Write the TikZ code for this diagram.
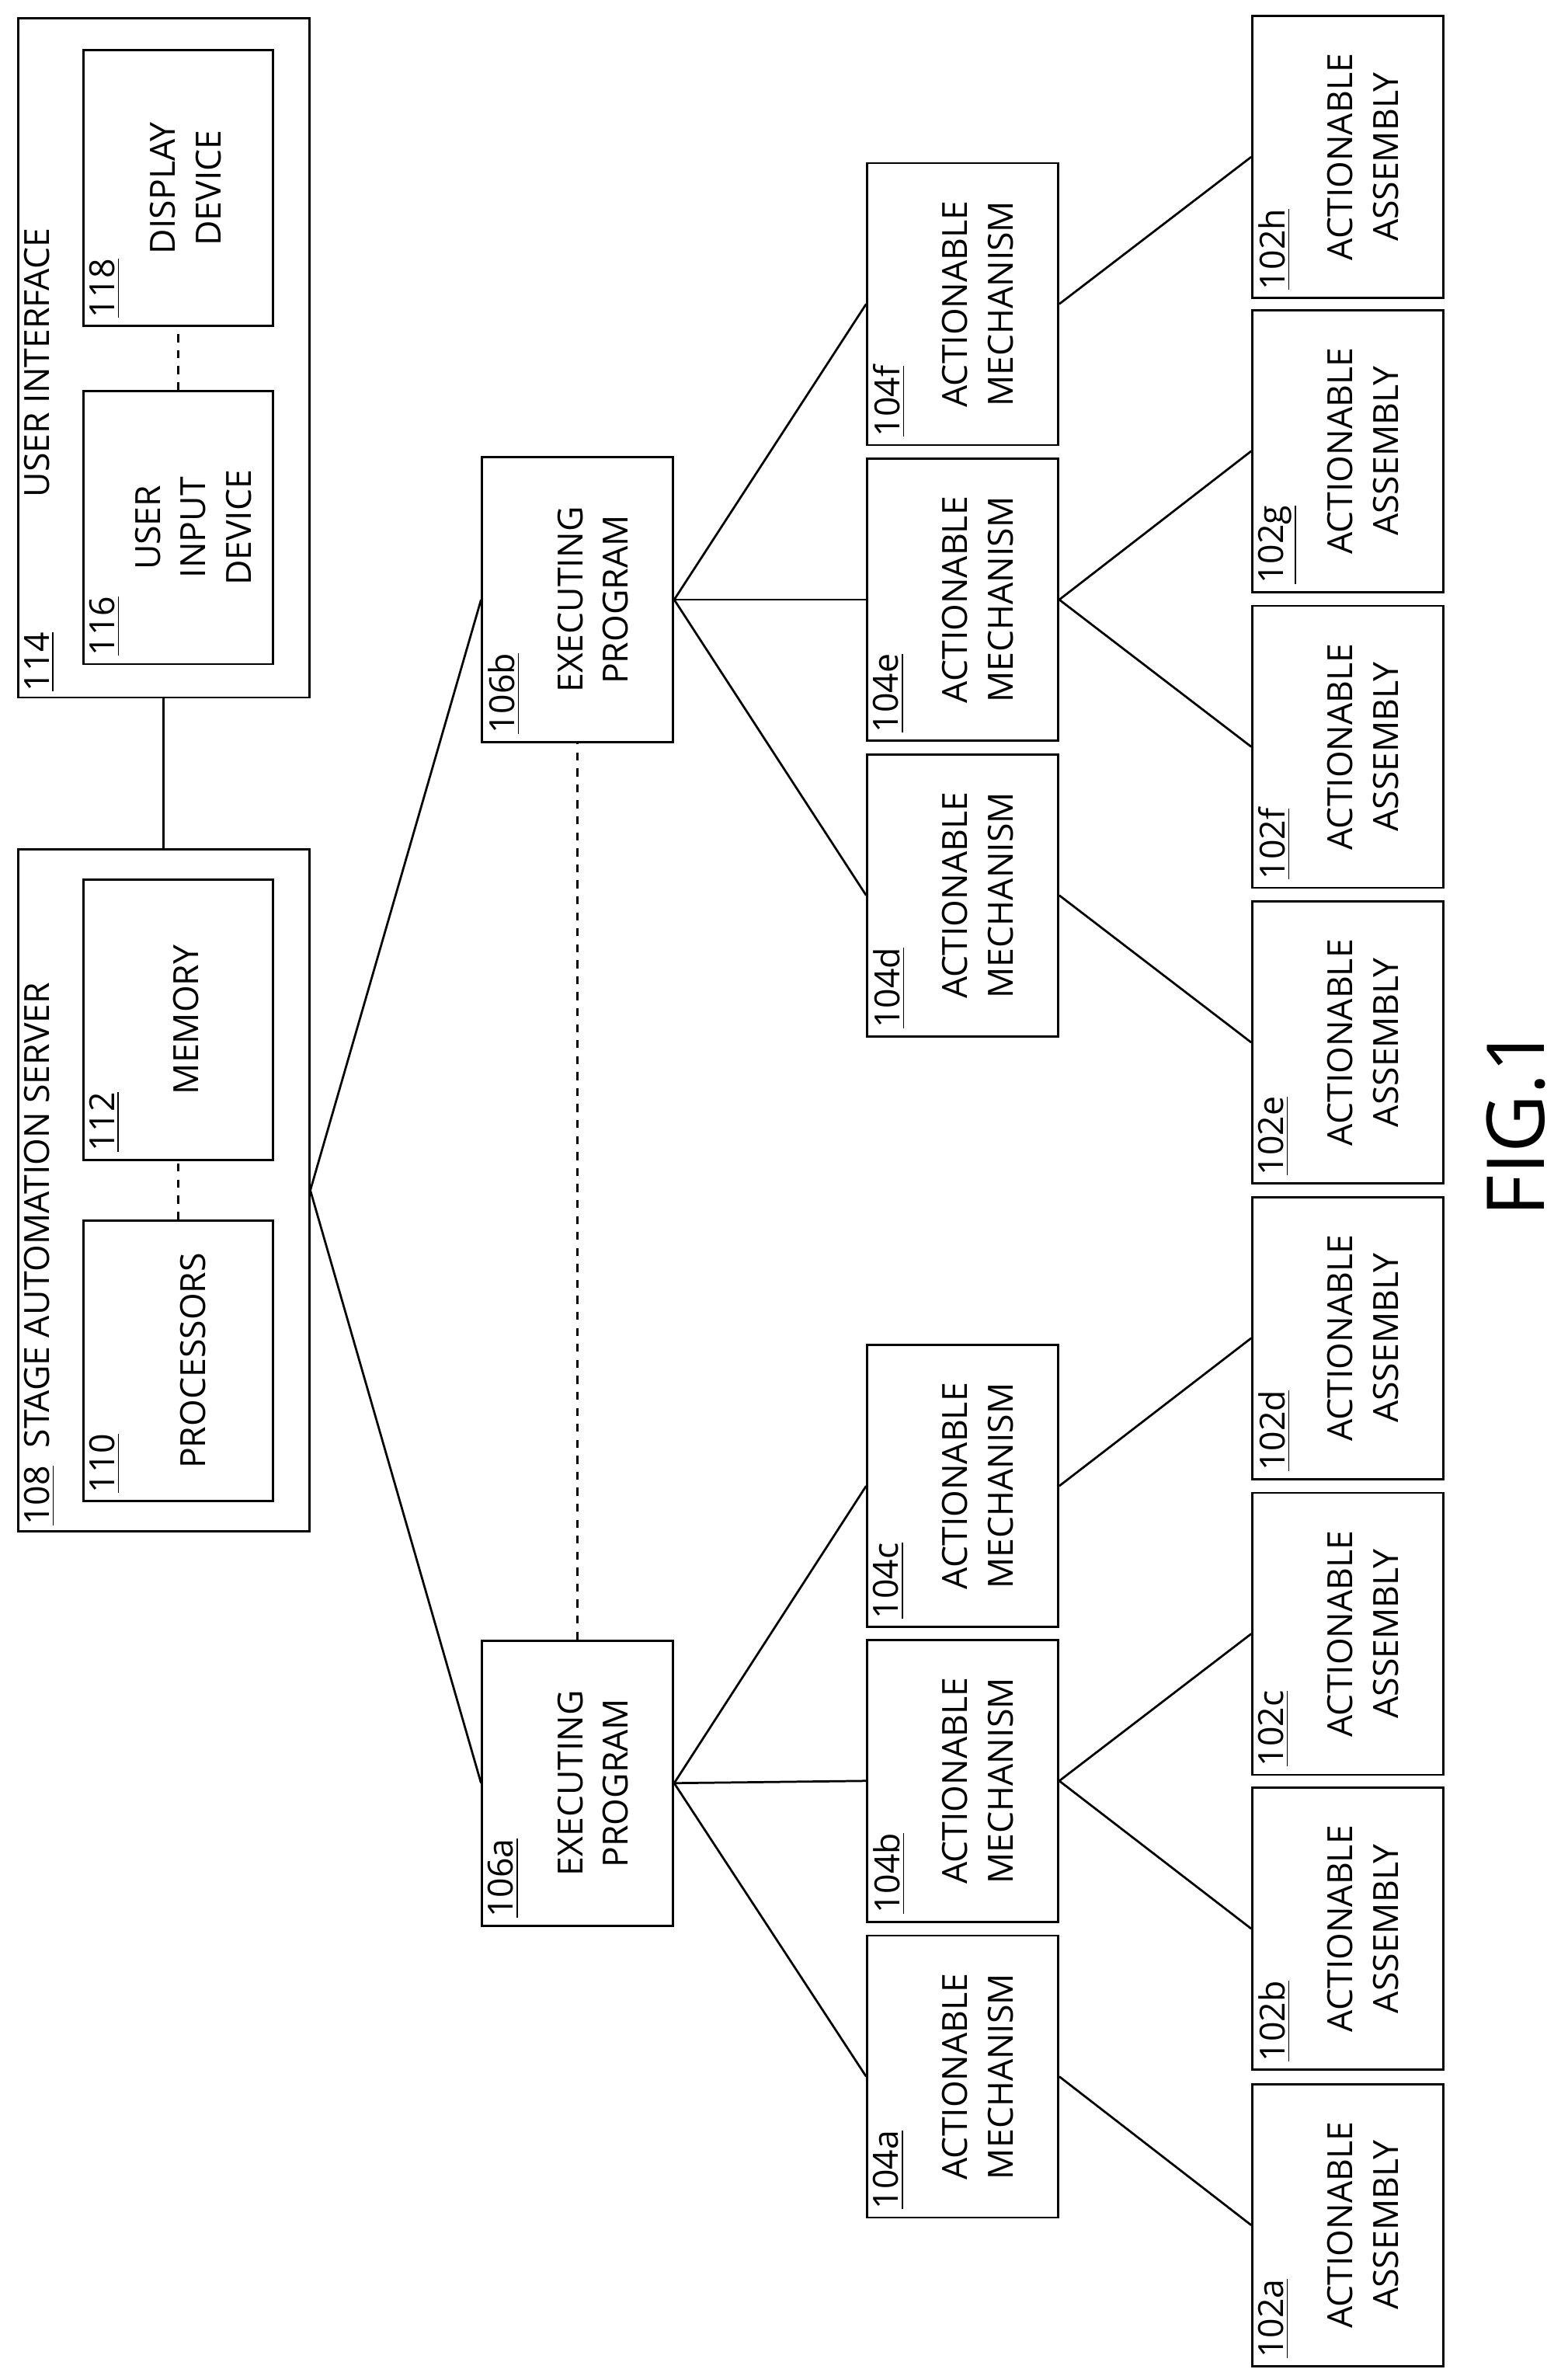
\documentclass[tikz,border=0pt]{standalone}
\usepackage{fontspec}
\setmainfont{Open Sans}
\usetikzlibrary{positioning}

\begin{document}
\begin{tikzpicture}[
    x=0.02cm, y=-0.02cm,
    box/.style={rectangle, draw, thick, inner sep=0pt},
    unit/.style={box, minimum width=2.52cm, minimum height=3.72cm},
    num/.style={rotate=90, anchor=north west, inner sep=1pt, font=\fontsize{13}{16}\selectfont},
    txt/.style={rotate=90, align=center, inner sep=0pt, font=\fontsize{13}{17}\selectfont},
    link/.style={thick},
    gap/.style={thick, dashed},
]
    \useasboundingbox (0,0) rectangle (1034,1567);

    % Server and user interface
    \node[box, minimum width=3.84cm, minimum height=9cm] (server) at (108,785) {};
    \node[num] (server-n) at ([xshift=0.05cm,yshift=0.05cm]server.south west) {\underline{108}\ \ STAGE AUTOMATION SERVER};
    \node[box, minimum width=2.5cm, minimum height=3.7cm] (proc) at (117.5,897.5) {};
    \node[num] (proc-n) at ([xshift=0.05cm,yshift=0.08cm]proc.south west) {\underline{110}};
    \node[txt] (proc-t) at ([xshift=0.2cm]proc.center) {PROCESSORS};
    \node[box, minimum width=2.5cm, minimum height=3.7cm] (mem) at (117.5,672.5) {};
    \node[num] (mem-n) at ([xshift=0.05cm,yshift=0.08cm]mem.south west) {\underline{112}};
    \node[txt] (mem-t) at ([xshift=0.1cm]mem.center) {MEMORY};

    \node[box, minimum width=3.84cm, minimum height=8.96cm] (ui) at (108,236) {};
    \node[num] (ui-n) at ([xshift=0.05cm,yshift=0.05cm]ui.south west) {\underline{114}\ \ \ \ \ \ \ \ \ \ \ \ \ \ \ USER INTERFACE};
    \node[box, minimum width=2.5cm, minimum height=3.6cm] (input) at (117.5,348) {};
    \node[num] (input-n) at ([xshift=0.05cm,yshift=0.08cm]input.south west) {\underline{116}};
    \node[txt] (input-t) at ([xshift=0.2cm]input.center) {USER\\INPUT\\DEVICE};
    \node[box, minimum width=2.5cm, minimum height=3.64cm] (disp) at (117.5,124) {};
    \node[num] (disp-n) at ([xshift=0.05cm,yshift=0.08cm]disp.south west) {\underline{118}};
    \node[txt] (disp-t) at ([xshift=0.1cm]disp.center) {DISPLAY\\DEVICE};

    \draw[gap] (proc) -- (mem);
    \draw[gap] (input) -- (disp);
    \draw[link] (server) -- (ui);

    % Executing programs
    \foreach \n/\y in {a/1176, b/395.5} {
        \node[box, minimum width=2.52cm, minimum height=3.76cm] (P\n) at (381,\y) {};
        \node[num] (P\n-n) at ([xshift=0.05cm,yshift=0.08cm]P\n.south west) {\underline{106\n}};
        \node[txt] (P\n-t) at ([xshift=0.2cm]P\n.center) {EXECUTING\\PROGRAM};
        \draw[link] (server.east) -- (P\n.west);
    }
    \draw[gap] (Pa) -- (Pb);

    % Actionable mechanisms
    \foreach \n/\y/\p in {a/1369.5/a, b/1174.5/a, c/980/a, d/590.5/b, e/395.5/b, f/200.5/b} {
        \node[unit] (M\n) at (635,\y) {};
        \node[num] (M\n-n) at ([xshift=0.05cm,yshift=0.08cm]M\n.south west) {\underline{104\n}};
        \node[txt] (M\n-t) at ([xshift=0.2cm]M\n.center) {ACTIONABLE\\MECHANISM};
        \draw[link] (P\p.east) -- (M\n.west);
    }

    % Actionable assemblies
    \foreach \n/\y/\m in {a/1467.5/a, b/1272/b, c/1077.5/b, d/882.5/c, e/687.5/d, f/492.5/e, g/297.5/e, h/103.5/f} {
        \node[unit] (A\n) at (889,\y) {};
        \node[num] (A\n-n) at ([xshift=0.05cm,yshift=0.08cm]A\n.south west) {\underline{102\n}};
        \node[txt] (A\n-t) at ([xshift=0.2cm]A\n.center) {ACTIONABLE\\ASSEMBLY};
        \draw[link] (M\m.east) -- (A\n.west);
    }

    \node[rotate=90, font=\fontsize{30}{36}\selectfont] (fig) at (1000,740) {FIG.1};
\end{tikzpicture}
\end{document}
